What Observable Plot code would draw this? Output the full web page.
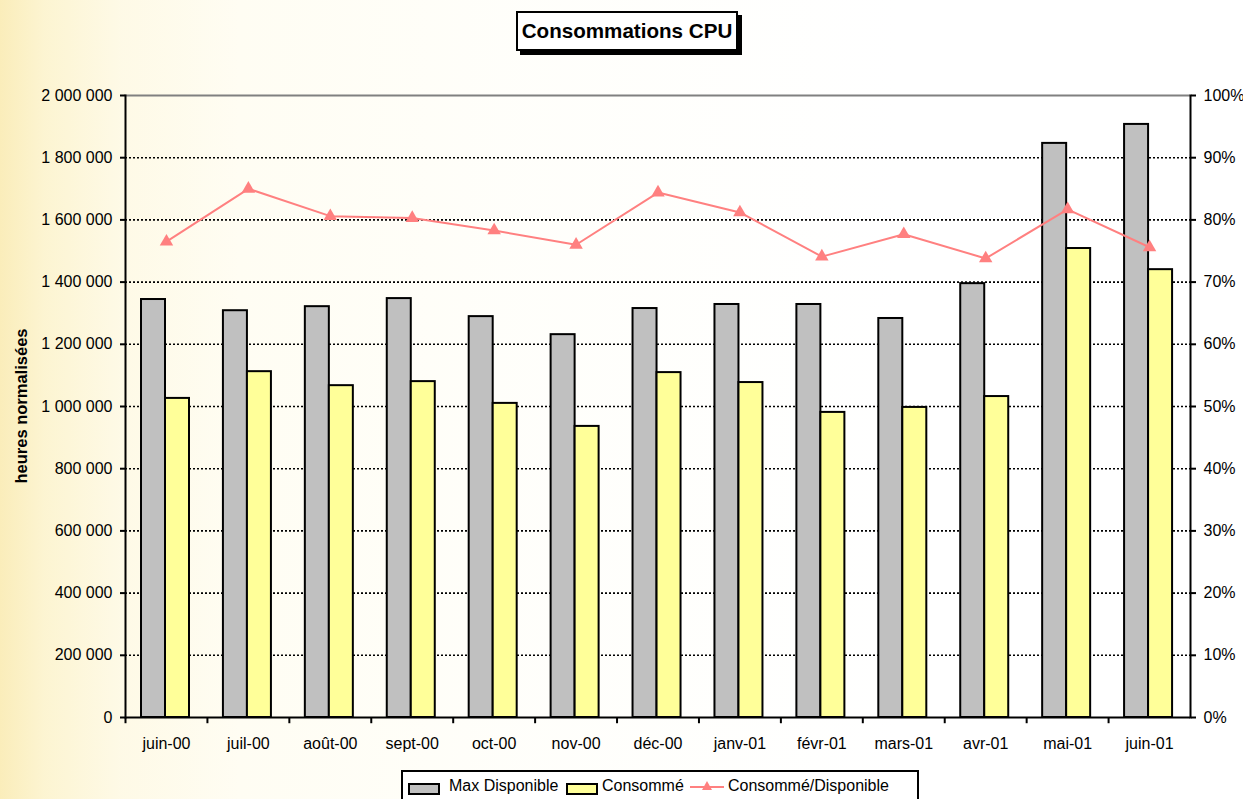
<!DOCTYPE html>
<html>
<head>
<meta charset="utf-8">
<script src="https://cdn.jsdelivr.net/npm/d3@7"></script>
<script src="https://cdn.jsdelivr.net/npm/@observablehq/plot@0.6"></script>
<style>
  html, body { margin: 0; padding: 0; }
  body { width: 1243px; height: 799px; overflow: hidden; font-family: "Liberation Sans", Arial, sans-serif; }
  #wrap {
    position: relative; width: 1243px; height: 799px;
    background:
      linear-gradient(to right, rgba(247,225,140,0.6) 0px, rgba(250,234,165,0.5) 45px, rgba(253,243,200,0.45) 120px, rgba(255,250,225,0.4) 240px, rgba(255,253,240,0.3) 520px, rgba(255,255,255,0) 900px),
      #ffffff;
  }
  #chart { position: absolute; left: 0; top: 0; }
  #chart svg { background: transparent !important; }
  #title {
    position: absolute; left: 516px; top: 11px; width: 218px; height: 36px;
    border: 2px solid #000; background: #fff; box-shadow: 4px 4px 0 #000;
    font: bold 20.6px "Liberation Sans", Arial, sans-serif; color: #000;
    display: flex; align-items: center; justify-content: center;
  }
  #ylabel {
    position: absolute; left: 21px; top: 406px;
    transform: translate(-50%, -50%) rotate(-90deg);
    font: bold 16.5px "Liberation Sans", Arial, sans-serif; white-space: nowrap; color: #000;
  }
  #legend {
    position: absolute; left: 401px; top: 770px; width: 514px; height: 40px;
    border: 2px solid #000; background: #fff;
    font: 16px "Liberation Sans", Arial, sans-serif; color: #000;
  }
  .sw { position: absolute; top: 11px; width: 28px; height: 8px; border: 2px solid #000; }
  .lt { position: absolute; top: 5px; white-space: nowrap; }
</style>
</head>
<body>
<div id="wrap">
  <div id="chart"></div>
  <div id="title">Consommations CPU</div>
  <div id="ylabel">heures normalisées</div>
  <div id="legend"></div>
</div>
<script>
// ---- Data ----
const months = ["juin-00","juil-00","août-00","sept-00","oct-00","nov-00","déc-00","janv-01","févr-01","mars-01","avr-01","mai-01","juin-01"];
const maxDisponible = [1344000,1308000,1321000,1347000,1289000,1231000,1315000,1328000,1328000,1283000,1395000,1846000,1907000];
const consomme = [1026000,1112000,1067000,1080000,1010000,936000,1109000,1077000,981000,997000,1032000,1508000,1440000];
const ratioPct = [76.5,85.0,80.6,80.3,78.3,76.0,84.4,81.2,74.1,77.7,73.8,81.7,75.6];
const leftTicks = [0,200000,400000,600000,800000,1000000,1200000,1400000,1600000,1800000,2000000];
const gridTicks = [200000,400000,600000,800000,1000000,1200000,1400000,1600000,1800000];
const seriesNames = ["Max Disponible","Consommé","Consommé/Disponible"];
const colors = {max: "#c0c0c0", conso: "#ffff99", ratio: "#ff8080"};

// right axis: 100% <-> 2 000 000 on the shared y scale
const yMax = 2000000;
const pctToY = p => p / 100 * yMax;

const rows = months.map((m, i) => ({month: m, max: maxDisponible[i], conso: consomme[i], ratio: ratioPct[i]}));
const fmt = d3.formatLocale({thousands: " ", grouping: [3], decimal: ",", currency: ["", ""]}).format(",");

const W = 1243, H = 799;
const mL = 125, mR = 53, mT = 95, mB = 82;
const band = (W - mL - mR) / months.length;

const chart = Plot.plot({
  width: W, height: H,
  marginLeft: mL, marginRight: mR, marginTop: mT, marginBottom: mB,
  style: {fontFamily: "'Liberation Sans', Arial, sans-serif", fontSize: "16px", color: "#000", background: "transparent"},
  x: {type: "band", domain: months, padding: 0, round: false, label: null},
  y: {domain: [0, yMax], label: null},
  marks: [
    Plot.ruleY(gridTicks, {stroke: "#000", strokeWidth: 1.6, strokeDasharray: "2,2"}),
    Plot.barY(rows, {x: "month", y: "max", fill: colors.max, stroke: "#000", strokeWidth: 2, insetLeft: 16, insetRight: band - 40}),
    Plot.barY(rows, {x: "month", y: "conso", fill: colors.conso, stroke: "#000", strokeWidth: 2, insetLeft: 40, insetRight: band - 64}),
    Plot.line(rows, {x: "month", y: d => pctToY(d.ratio), stroke: colors.ratio, strokeWidth: 2}),
    Plot.dot(rows, {x: "month", y: d => pctToY(d.ratio), symbol: "triangle", fill: colors.ratio, r: 5}),
    Plot.ruleY([yMax], {stroke: "#808080", strokeWidth: 2}),
    Plot.ruleY([0], {stroke: "#000", strokeWidth: 2}),
    Plot.frame({anchor: "left", stroke: "#000", strokeWidth: 2}),
    Plot.frame({anchor: "right", stroke: "#000", strokeWidth: 2}),
    Plot.ruleX(months, {x: d => d, y1: 0, y2: -20000, dx: -band / 2, stroke: "#000", strokeWidth: 2}),
    Plot.axisY({anchor: "left", ticks: leftTicks, tickFormat: fmt, tickSize: 5, tickPadding: 8, label: null, strokeWidth: 2}),
    Plot.axisY({anchor: "right", ticks: leftTicks, tickFormat: d => Math.round(d / yMax * 100) + "%", tickSize: 5, tickPadding: 8, label: null, strokeWidth: 2}),
    Plot.axisX({anchor: "bottom", tickSize: 0, tickPadding: 20, label: null})
  ]
});
document.getElementById("chart").appendChild(chart);

// ---- Legend ----
const lg = document.getElementById("legend");
lg.innerHTML = `
  <div class="sw" style="left:5px;background:${colors.max}"></div>
  <div class="lt" style="left:46px">${seriesNames[0]}</div>
  <div class="sw" style="left:163px;background:${colors.conso}"></div>
  <div class="lt" style="left:199px">${seriesNames[1]}</div>
  <svg style="position:absolute;left:287px;top:8px" width="34" height="14">
    <line x1="0" y1="7" x2="34" y2="7" stroke="${colors.ratio}" stroke-width="2"/>
    <path d="M17,1 L22,10 L12,10 Z" fill="${colors.ratio}"/>
  </svg>
  <div class="lt" style="left:325px">${seriesNames[2]}</div>`;
</script>
</body>
</html>
